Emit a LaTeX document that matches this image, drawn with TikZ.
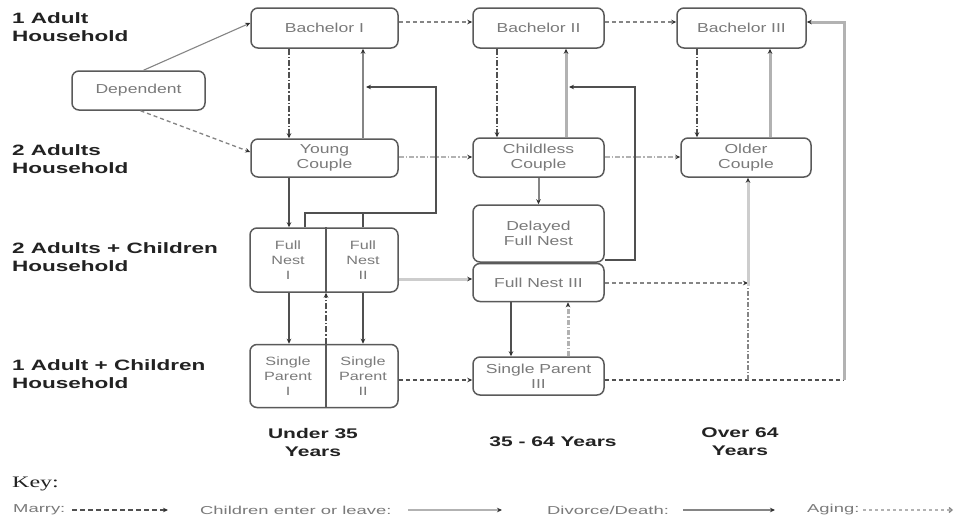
\documentclass[tikz,border=0pt]{standalone}
\usepackage{fontspec}
\setmainfont{Liberation Sans}
\newfontfamily\rowfont[FakeStretch=1.5]{Liberation Sans}
\newfontfamily\nodefont[FakeStretch=1.35]{Liberation Sans}
\newfontfamily\keyfont[FakeStretch=1.6]{Liberation Sans}
\newfontfamily\keyhead[FakeStretch=1.5]{Liberation Serif}
\usetikzlibrary{arrows.meta}
\definecolor{boxc}{HTML}{5A5A5A}
\definecolor{txtc}{HTML}{7A7A7A}
\definecolor{darkc}{HTML}{505050}
\definecolor{midc}{HTML}{858585}
\definecolor{lightc}{HTML}{B2B2B2}
\definecolor{paler}{HTML}{CDCDCD}
\definecolor{arrc}{HTML}{303030}
\definecolor{rowc}{HTML}{222222}
\tikzset{
  box/.style={draw=boxc, line width=1.5pt, rounded corners=7pt, fill=white,
    font=\nodefont\fontsize{13}{15}\selectfont, text=txtc, align=center, inner sep=0pt},
  subtext/.style={font=\nodefont\fontsize{12}{15}\selectfont, text=txtc, align=center, inner sep=0pt},
  rowlab/.style={font=\rowfont\bfseries\fontsize{15}{18}\selectfont, text=rowc, align=left, inner sep=0pt},
  collab/.style={font=\rowfont\bfseries\fontsize{14}{18}\selectfont, text=rowc, align=center, inner sep=0pt},
  keylab/.style={font=\keyfont\fontsize{11.5}{14}\selectfont, text=txtc, anchor=west, inner sep=0pt},
  tipped/.style={-{Stealth[length=5pt,width=4.5pt,color=arrc]}},
  marry/.style={draw=darkc, line width=1.8pt, dash pattern=on 6pt off 2pt on 1.5pt off 2pt, tipped},
  kids/.style={draw=lightc, line width=3pt, tipped},
  midline/.style={draw=midc, line width=2.4pt, tipped},
  divorce/.style={draw=darkc, line width=1.6pt, tipped},
  aging/.style={draw=midc, line width=1.5pt, dash pattern=on 4pt off 3pt, tipped},
  agedd/.style={draw=lightc, line width=1.8pt, dash pattern=on 5pt off 2pt on 1.5pt off 2pt, tipped},
  thickdash/.style={draw=lightc, line width=3pt, dash pattern=on 5pt off 2pt on 1.5pt off 2pt, tipped}
}
\begin{document}
\begin{tikzpicture}[x=1pt,y=-1pt]
\useasboundingbox[fill=white] (0,0) rectangle (956,517);

% row labels
\node[rowlab, anchor=north west] (r1) at (12,12) {1 Adult\\Household};
\node[rowlab, anchor=north west] (r2) at (12,144) {2 Adults\\Household};
\node[rowlab, anchor=north west] (r3) at (12,242) {2 Adults + Children\\Household};
\node[rowlab, anchor=north west] (r4) at (12,359) {1 Adult + Children\\Household};

% boxes
\node[box, minimum width=133pt, minimum height=39pt] (dep) at (138.5,90.5) {Dependent};
\node[box, minimum width=147pt, minimum height=40pt] (b1) at (324.5,28) {Bachelor I};
\node[box, minimum width=131pt, minimum height=40pt] (b2) at (538.5,28) {Bachelor II};
\node[box, minimum width=129pt, minimum height=40pt] (b3) at (741.5,28) {Bachelor III};
\node[box, minimum width=147pt, minimum height=38pt] (yc) at (324.5,158) {Young\\Couple};
\node[box, minimum width=131pt, minimum height=39pt] (cc) at (538.5,157.5) {Childless\\Couple};
\node[box, minimum width=130pt, minimum height=39pt] (oc) at (746,157.5) {Older\\Couple};
\node[box, minimum width=148pt, minimum height=64pt] (fn) at (324,260) {};
\node[subtext] (fn1) at (288,260) {Full\\Nest\\I};
\node[subtext] (fn2) at (363,260) {Full\\Nest\\II};
\node[box, minimum width=148pt, minimum height=63pt] (sp) at (324,376) {};
\node[subtext] (sp1) at (288,376) {Single\\Parent\\I};
\node[subtext] (sp2) at (363,376) {Single\\Parent\\II};
\node[box, minimum width=131pt, minimum height=57pt] (dfn) at (538.5,233.5) {Delayed\\Full Nest};
\node[box, minimum width=131pt, minimum height=38pt] (fn3) at (538.5,282.5) {Full Nest III};
\node[box, minimum width=131pt, minimum height=38pt] (sp3) at (538.5,376) {Single Parent\\III};

% dividers
\draw[draw=boxc, line width=1.3pt] (326,0 |- fn.north) -- (326,0 |- fn.south);
\draw[draw=boxc, line width=1.3pt] (326,0 |- sp.north) -- (326,0 |- sp.south);

% junction coordinates
\coordinate (jA) at (436,213);
\coordinate (jB) at (305,213);
\coordinate (jC) at (635,260);
\coordinate (jD) at (635,87);
\coordinate (jE) at (748,283);
\coordinate (jF) at (748,380);
\coordinate (jG) at (844,380);
\coordinate (jH) at (844,22);

% Dependent
\draw[draw=midc, line width=1.1pt, tipped] ([xshift=5pt]dep.north) -- ([yshift=5pt]b1.west);
\draw[draw=midc, line width=1.3pt, dash pattern=on 4pt off 3pt, tipped] ([xshift=2pt]dep.south) -- ([yshift=6pt]yc.west);

% column 1
\draw[marry] (289,0 |- b1.south) -- (289,0 |- yc.north);
\draw[midline] (363,0 |- yc.north) -- (363,0 |- b1.south);
\draw[divorce] (305,0 |- fn.north) -- (jB) -- (jA) -- (jD -| 436,0) -- (366,87);
\draw[draw=darkc, line width=1.6pt] (363,0 |- fn.north) -- (363,213);
\draw[divorce] (289,0 |- yc.south) -- (289,0 |- fn.north);
\draw[divorce] (289,0 |- fn.south) -- (289,0 |- sp.north);
\draw[divorce] (363,0 |- fn.south) -- (363,0 |- sp.north);
\draw[marry] (326,0 |- sp.north) -- (326,0 |- fn.south);

% between columns
\draw[draw=paler, line width=3pt, tipped] (fn.east |- 0,279) -- (fn3.west |- 0,279);
\draw[draw=darkc, line width=1.5pt, dash pattern=on 4pt off 3pt, tipped] (sp.east |- 0,380) -- (sp3.west |- 0,380);
\draw[agedd] (yc.east |- 0,157) -- (cc.west |- 0,157);
\draw[aging] (b1.east |- 0,22) -- (b2.west |- 0,22);
\draw[aging] (b2.east |- 0,22) -- (b3.west |- 0,22);

% column 2
\draw[marry] (497,0 |- b2.south) -- (497,0 |- cc.north);
\draw[kids] (566,0 |- cc.north) -- (566,0 |- b2.south);
\draw[divorce] (dfn.east |- jC) -- (jC) -- (jD) -- (569,87);
\draw[draw=midc, line width=2pt, tipped] (cc.south) -- (dfn.north);
\draw[divorce] (511,0 |- fn3.south) -- (511,0 |- sp3.north);
\draw[thickdash] (568,0 |- sp3.north) -- (568,0 |- fn3.south);
\draw[agedd] (cc.east |- 0,157) -- (oc.west |- 0,157);

% column 3
\draw[marry] (697,0 |- b3.south) -- (697,0 |- oc.north);
\draw[kids] (770,0 |- oc.north) -- (770,0 |- b3.south);
\draw[aging] (fn3.east |- jE) -- (jE);
\draw[draw=darkc, line width=1.5pt, dash pattern=on 4pt off 3pt] (sp3.east |- jF) -- (jG);
\draw[kids] (jG) -- (jH) -- (b3.east |- jH);
\draw[draw=midc, line width=1.8pt, dash pattern=on 5pt off 2pt on 1.5pt off 2pt] (jF) -- ([yshift=-3pt]jE);
\draw[draw=paler, line width=3pt, tipped] ([yshift=-3pt]jE) -- (oc.south -| jE);

% column labels
\node[collab] (c1) at (313,442) {Under 35\\Years};
\node[collab] (c2) at (553,442) {35 - 64 Years};
\node[collab] (c3) at (740,442) {Over 64\\Years};

% key
\node[font=\keyhead\fontsize{16}{18}\selectfont, text=rowc, anchor=west, inner sep=0pt] (key) at (12,484) {Key:};
\node[keylab] (k1) at (13,510) {Marry:};
\coordinate (k1a) at (72,510); \coordinate (k1b) at (168,510);
\draw[draw=darkc, line width=1.1pt, dash pattern=on 5pt off 3pt, tipped] (k1a) -- (k1b);
\node[keylab] (k2) at (200,510) {Children enter or leave:};
\coordinate (k2a) at (408,510); \coordinate (k2b) at (502,510);
\draw[draw=lightc, line width=1.3pt, tipped] (k2a) -- (k2b);
\node[keylab] (k3) at (547,510) {Divorce/Death:};
\coordinate (k3a) at (683,510); \coordinate (k3b) at (775,510);
\draw[draw=midc, line width=1.3pt, tipped] (k3a) -- (k3b);
\node[keylab] (k4) at (807,510) {Aging:};
\coordinate (k4a) at (863,510); \coordinate (k4b) at (953,510);
\draw[draw=lightc, line width=1.3pt, dash pattern=on 3pt off 3pt, -{Straight Barb[length=3pt,width=5pt,color=midc]}] (k4a) -- (k4b);
\end{tikzpicture}
\end{document}
